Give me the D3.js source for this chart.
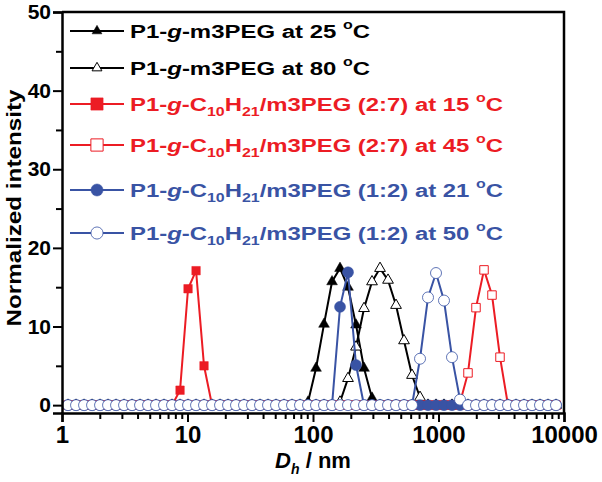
<!DOCTYPE html>
<html><head><meta charset="utf-8">
<script src="https://cdn.jsdelivr.net/npm/d3@7"></script>
<style>body{margin:0;background:#fff}svg{display:block}text{font-family:Arial,"Liberation Sans",sans-serif;font-weight:bold}</style>
</head><body><svg id="c" width="602" height="482"></svg>
<script>
// DLS size classes (nm)
const sizes = [1.117,1.294,1.499,1.736,2.01,2.328,2.696,3.122,3.615,4.187,4.849,5.615,6.503,7.531,8.721,10.1,11.7,13.54,15.69,18.17,21.04,24.36,28.21,32.67,37.84,43.82,50.75,58.77,68.06,78.82,91.28,105.7,122.4,141.8,164.2,190.1,220.2,255.0,295.3,342.0,396.1,458.7,531.2,615.1,712.4,825.0,955.4,1106,1281,1484,1718,1990,2305,2669,3091,3580,4145,4801,5560,6439,7456,8635];
const m3peg25  = [0,0,0,0,0,0,0,0,0,0,0,0,0,0,0,0,0,0,0,0,0,0,0,0,0,0,0,0,0,0,0.4,4.7,10.3,15.7,17.4,15.0,10.2,4.7,0.9,0,0,0,0,0,0,0,0,0,0,0,0,0,0,0,0,0,0,0,0,0,0,0];
const m3peg80  = [0,0,0,0,0,0,0,0,0,0,0,0,0,0,0,0,0,0,0,0,0,0,0,0,0,0,0,0,0,0,0,0,0,0,0.4,3.4,7.4,12.3,15.7,17.4,15.9,12.7,8.2,3.8,1.0,0,0,0,0,0,0,0,0,0,0,0,0,0,0,0,0,0];
const c10_27_15 = [0,0,0,0,0,0,0,0,0,0,0,0,0,0,1.9,14.8,17.1,5.0,0,0,0,0,0,0,0,0,0,0,0,0,0,0,0,0,0,0,0,0,0,0,0,0,0,0,0,0,0,0,0,0,0,0,0,0,0,0,0,0,0,0,0,0];
const c10_27_45 = [0,0,0,0,0,0,0,0,0,0,0,0,0,0,0,0,0,0,0,0,0,0,0,0,0,0,0,0,0,0,0,0,0,0,0,0,0,0,0,0,0,0,0,0,0,0,0,0,0,0.3,4.1,12.4,17.2,14.0,6.1,0,0,0,0,0,0,0];
const c10_12_21 = [0,0,0,0,0,0,0,0,0,0,0,0,0,0,0,0,0,0,0,0,0,0,0,0,0,0,0,0,0,0,0,0,0,0,12.5,16.9,5.1,0,0,0,0,0,0,0,0,0,0,0,0,0,0,0,0,0,0,0,0,0,0,0,0,0];
const c10_12_50 = [0,0,0,0,0,0,0,0,0,0,0,0,0,0,0,0,0,0,0,0,0,0,0,0,0,0,0,0,0,0,0,0,0,0,0,0,0,0,0,0,0,0,0,0,5.9,13.7,16.8,13.3,6.1,0.7,0,0,0,0,0,0,0,0,0,0,0,0];

const xTicks = [1,10,100,1000,10000];
const yTicks = [0,10,20,30,40,50];
const yMinor = [5,15,25,35,45];

const RED = "#ec1c24", BLUE = "#3953a4";
const series = [
  {vals:m3peg25,  color:"#000", shape:"tri", fill:true,
   label:[["P1-","n"],["g","i"],["-m3PEG at 25 ","n"],["o","sup"],["C","n"]]},
  {vals:m3peg80,  color:"#000", shape:"tri", fill:false,
   label:[["P1-","n"],["g","i"],["-m3PEG at 80 ","n"],["o","sup"],["C","n"]]},
  {vals:c10_27_15, color:RED, shape:"sq", fill:true,
   label:[["P1-","n"],["g","i"],["-C","n"],["10","sub"],["H","n"],["21","sub"],["/m3PEG (2:7) at 15 ","n"],["o","sup"],["C","n"]]},
  {vals:c10_27_45, color:RED, shape:"sq", fill:false,
   label:[["P1-","n"],["g","i"],["-C","n"],["10","sub"],["H","n"],["21","sub"],["/m3PEG (2:7) at 45 ","n"],["o","sup"],["C","n"]]},
  {vals:c10_12_21, color:BLUE, shape:"ci", fill:true,
   label:[["P1-","n"],["g","i"],["-C","n"],["10","sub"],["H","n"],["21","sub"],["/m3PEG (1:2) at 21 ","n"],["o","sup"],["C","n"]]},
  {vals:c10_12_50, color:BLUE, shape:"ci", fill:false,
   label:[["P1-","n"],["g","i"],["-C","n"],["10","sub"],["H","n"],["21","sub"],["/m3PEG (1:2) at 50 ","n"],["o","sup"],["C","n"]]}
];

const svg = d3.select("#c");
const x = d3.scaleLog().domain([1,10000]).range([62,564]);
const y = d3.scaleLinear().domain([-1,50]).range([413,12]);

function sym(shape, big){
  if(shape==="tri") return d3.symbol().type(d3.symbolTriangle).size(big?42:50)();
  if(shape==="sq") return d3.symbol().type(d3.symbolSquare).size(big?150:72)();
  return d3.symbol().type(d3.symbolCircle).size(big?115:95)();
}
function sw(s){ return s.fill ? 0.5 : (s.shape==="ci" ? 0.8 : 1.0); }

// series
series.forEach(s=>{
  const pts = sizes.map((d,i)=>[d,s.vals[i]]);
  const line = d3.line().x(d=>x(d[0])).y(d=>y(d[1]));
  svg.append("path").attr("d",line(pts)).attr("fill","none")
    .attr("stroke",s.color).attr("stroke-width",2);
  svg.append("g").selectAll("path").data(pts).join("path")
    .attr("transform",d=>`translate(${x(d[0])},${y(d[1])})`)
    .attr("d",sym(s.shape,false))
    .attr("fill",s.fill?s.color:"#fff")
    .attr("stroke",s.color).attr("stroke-width",sw(s));
});

// axes
const ax = svg.append("g").attr("transform","translate(0,413)")
  .call(d3.axisBottom(x).tickValues(xTicks).tickFormat(d3.format("d")).tickSize(9).tickPadding(4));
const minorX = [];
[1,10,100,1000].forEach(b=>{for(let k=2;k<=9;k++) minorX.push(b*k);});
svg.append("g").attr("transform","translate(0,413)")
  .call(d3.axisBottom(x).tickValues(minorX).tickFormat("").tickSize(6))
  .call(g=>g.select(".domain").remove());
ax.selectAll("text").attr("font-size",24).attr("fill","#000").attr("font-family","Arial, 'Liberation Sans', sans-serif").attr("font-weight","bold");
const ay = svg.append("g").attr("transform","translate(62,0)")
  .call(d3.axisLeft(y).tickValues(yTicks).tickSize(9).tickPadding(2));
svg.append("g").attr("transform","translate(62,0)")
  .call(d3.axisLeft(y).tickValues(yMinor).tickFormat("").tickSize(6))
  .call(g=>g.select(".domain").remove());
ay.selectAll("text").attr("font-size",21).attr("fill","#000").attr("font-family","Arial, 'Liberation Sans', sans-serif").attr("font-weight","bold");
svg.selectAll(".domain").attr("stroke-width",2.5).attr("stroke","#000");
svg.selectAll(".tick line").attr("stroke-width",2).attr("stroke","#000");
// frame
svg.append("path").attr("d",`M${x(1)},${y(50)}H${x(10000)}V${y(-1)}`)
  .attr("fill","none").attr("stroke","#000").attr("stroke-width",2.5);

// legend
const lineY = [31,68,104,145,190,233];
const widths = [240,240,373,373,373,373];
series.forEach((s,i)=>{
  const g = svg.append("g");
  g.append("line").attr("x1",70).attr("x2",124).attr("y1",lineY[i]).attr("y2",lineY[i])
    .attr("stroke",s.color).attr("stroke-width",2);
  g.append("path").attr("transform",`translate(97,${lineY[i]})`).attr("d",sym(s.shape,true))
    .attr("fill",s.fill?s.color:"#fff").attr("stroke",s.color).attr("stroke-width",sw(s));
  const t = g.append("text").attr("x",130).attr("y",lineY[i]+7).attr("font-size",18)
    .attr("fill",s.color).attr("textLength",widths[i]).attr("lengthAdjust","spacingAndGlyphs");
  let off = 0;
  s.label.forEach(([txt,st])=>{
    const sp = t.append("tspan").text(txt);
    let target = 0;
    if(st==="sub"){target=5; sp.attr("font-size",12);}
    if(st==="sup"){target=-9; sp.attr("font-size",12);}
    if(st==="i") sp.attr("font-style","italic");
    if(target!==off){sp.attr("dy",target-off); off=target;}
  });
});

// axis titles
svg.append("text").attr("transform","translate(21,208) rotate(-90)").attr("text-anchor","middle")
  .attr("font-size",20).attr("textLength",237).attr("lengthAdjust","spacingAndGlyphs").text("Normalized intensity");
const xt = svg.append("text").attr("x",313).attr("y",468).attr("text-anchor","middle").attr("font-size",22);
xt.append("tspan").attr("font-style","italic").text("D");
xt.append("tspan").attr("font-style","italic").attr("font-size",14).attr("dy",6).text("h");
xt.append("tspan").attr("dy",-6).text(" / nm");
</script></body></html>
